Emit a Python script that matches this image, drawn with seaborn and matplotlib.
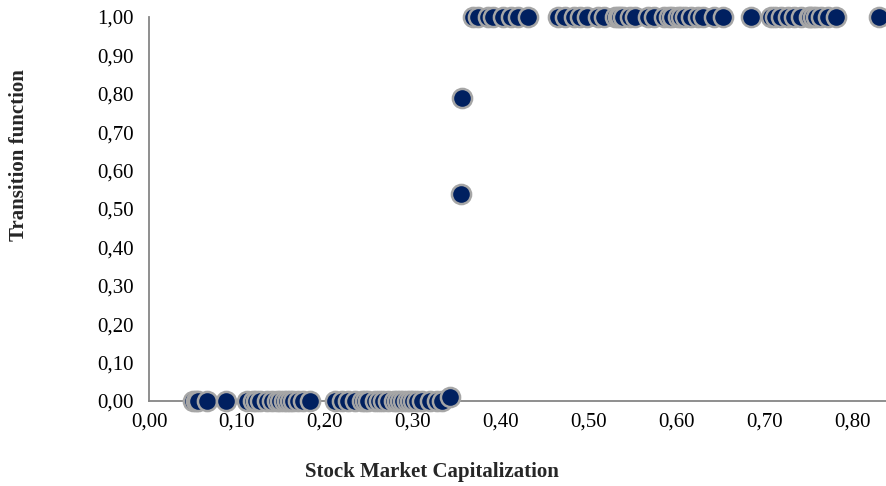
import seaborn as sns
import matplotlib.pyplot as plt
import pandas as pd
import numpy as np
from matplotlib.ticker import FuncFormatter

# lower regime (transition function ~ 0)
low_x = [0.050, 0.053, 0.056, 0.066, 0.0875, 0.111, 0.118, 0.122, 0.126, 0.134,
         0.140, 0.145, 0.149, 0.153, 0.157, 0.160, 0.164, 0.169, 0.175, 0.183,
         0.211, 0.219, 0.226, 0.234, 0.242, 0.245, 0.249, 0.257, 0.262, 0.266,
         0.272, 0.278, 0.282, 0.285, 0.289, 0.293, 0.297, 0.300, 0.305, 0.310,
         0.319, 0.327, 0.333, 0.342]
low_y = [0.0] * 43 + [0.01]

# transition points
mid_x = [0.3545, 0.3557]
mid_y = [0.54, 0.79]

# upper regime (transition function ~ 1)
high_x = [0.368, 0.374, 0.385, 0.391, 0.403, 0.411, 0.419, 0.431, 0.465, 0.473,
          0.483, 0.490, 0.498, 0.510, 0.517, 0.530, 0.533, 0.536, 0.539, 0.547,
          0.553, 0.567, 0.574, 0.585, 0.591, 0.595, 0.601, 0.605, 0.609, 0.616,
          0.624, 0.630, 0.642, 0.653, 0.684, 0.707, 0.712, 0.718, 0.726, 0.733,
          0.741, 0.750, 0.752, 0.755, 0.758, 0.764, 0.772, 0.781, 0.830]
high_y = [1.0] * len(high_x)

df = pd.DataFrame({
    "smc": low_x + mid_x + high_x,
    "g": low_y + mid_y + high_y,
})

sns.set_style("white")
plt.rcParams["font.family"] = ["Liberation Serif", "DejaVu Serif"]

fig = plt.figure(figsize=(8.87, 4.86), dpi=100)
ax = fig.add_axes([0.168, 0.175, 0.832, 0.790])

sns.scatterplot(
    data=df, x="smc", y="g", ax=ax,
    s=190, color="#002060", edgecolor="#A6A6A6", linewidth=1.8,
    clip_on=False, zorder=3,
)

ax.set_xlim(0, 0.839)
ax.set_ylim(0, 1.0)
ax.set_xticks(np.arange(0, 0.81, 0.1))
ax.set_yticks(np.arange(0, 1.01, 0.1))
comma = FuncFormatter(lambda v, _: f"{v:.2f}".replace(".", ","))
ax.xaxis.set_major_formatter(comma)
ax.yaxis.set_major_formatter(comma)

for side in ["top", "right"]:
    ax.spines[side].set_visible(False)
for side in ["left", "bottom"]:
    ax.spines[side].set_color("#868686")
    ax.spines[side].set_linewidth(1.3)

ax.tick_params(axis="both", direction="out", length=5, width=1.3,
               color="#868686", labelsize=15, labelcolor="black", pad=6)
ax.tick_params(axis="x", pad=3)

ax.set_xlabel("Stock Market Capitalization", fontsize=15, fontweight="bold")
ax.xaxis.set_label_coords(0.383, -0.158)
ax.set_ylabel("Transition function", fontsize=15, fontweight="bold")
ax.yaxis.set_label_coords(-0.163, 0.64)

fig.savefig("out.png", dpi=100)
